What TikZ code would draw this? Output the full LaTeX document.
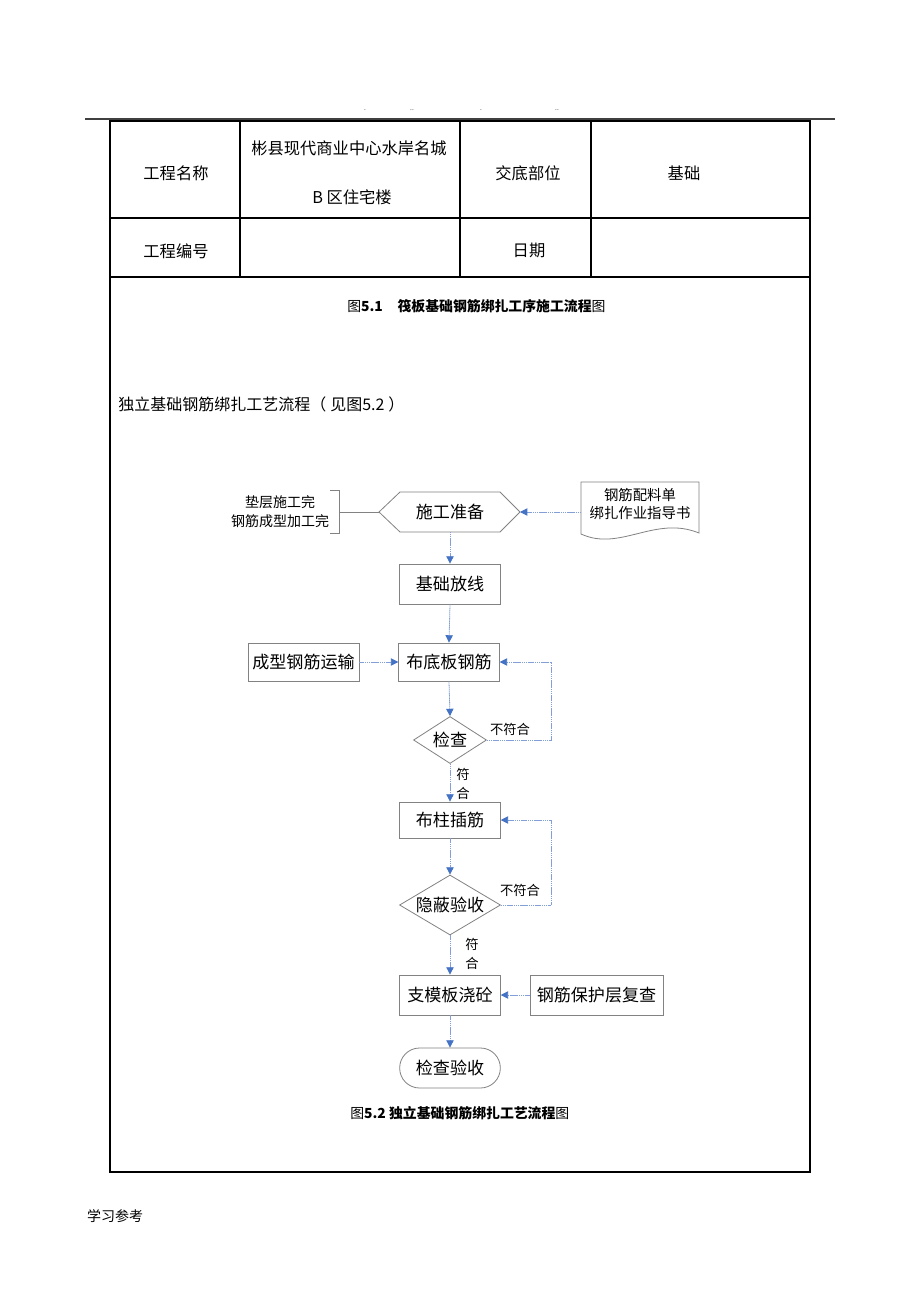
\documentclass[tikz,border=0pt]{standalone}
\usepackage{fontspec}
\setmainfont{Noto Sans CJK SC}
\usetikzlibrary{shapes.geometric,arrows.meta}
\definecolor{boxgray}{RGB}{130,130,130}
\definecolor{tipblue}{RGB}{68,114,196}
\definecolor{lineblue}{RGB}{130,160,215}
\begin{document}
\begin{tikzpicture}[x=0.75pt,y=-0.75pt,
  every node/.style={inner sep=0pt},
  cell/.style={font=\fontsize{12.2}{15}\selectfont},
  capt/.style={font=\fontsize{10.4}{13}\selectfont\bfseries, anchor=west},
  procbox/.style={draw=boxgray, line width=0.6pt, rectangle, minimum width=75.5pt, minimum height=30pt, font=\fontsize{12.8}{15}\selectfont},
  decision/.style={diamond, draw=boxgray, line width=0.6pt, inner sep=-2pt, font=\fontsize{12.8}{15}\selectfont},
  terminal/.style={procbox, rounded corners=14.9pt},
  shapeline/.style={draw=boxgray, line width=0.6pt},
  note/.style={font=\fontsize{10.5}{14.25}\selectfont, align=center},
  lbl/.style={font=\fontsize{10}{14}\selectfont, align=center},
  flowarrow/.style={draw=lineblue, line width=0.6pt, dash pattern=on 1pt off 0.4pt, -{Triangle[width=5.5pt,length=5.5pt,color=tipblue,sep=0pt]}},
]
\useasboundingbox (0,0) rectangle (920,1302);
\fill[white] (0,0) rectangle (920,1302);

% header rule and dots
\draw[line width=1.4pt, black!75] (85,119) -- (835,119);
\node[font=\fontsize{5}{5}\selectfont] (d1) at (365,110) {.};
\node[font=\fontsize{5}{5}\selectfont] (d2) at (412,110) {..};
\node[font=\fontsize{5}{5}\selectfont] (d3) at (481,110) {.};
\node[font=\fontsize{5}{5}\selectfont] (d4) at (557,110) {..};

% table
\draw[line width=1.6pt] (110,121) rectangle (810,1172);
\draw[line width=0.8pt] (110,218) -- (810,218);
\draw[line width=0.8pt] (110,277) -- (810,277);
\draw[line width=0.8pt] (240,121) -- (240,277);
\draw[line width=0.8pt] (460,121) -- (460,277);
\draw[line width=0.8pt] (591,121) -- (591,277);

\node[cell] (c11) at (176,173) {工程名称};
\node[cell] (c12a) at (349,148) {彬县现代商业中心水岸名城};
\node[cell] (c12b) at (352,197) {B 区住宅楼};
\node[cell] (c13) at (528,173) {交底部位};
\node[cell] (c14) at (684,173) {基础};
\node[cell] (c21) at (176,251) {工程编号};
\node[cell] (c23) at (529,250) {日期};

% captions and intro
\node[capt] (cap1) at (347,306) {{\mdseries 图}5.1\hspace{11pt}筏板基础钢筋绑扎工序施工流程{\mdseries 图}};
\node[font=\fontsize{12}{15}\selectfont, anchor=west] (intro) at (118,404) {独立基础钢筋绑扎工艺流程（\hspace{3pt}见图5.2\hspace{3pt}）};
\node[capt] (cap2) at (350,1113) {{\mdseries 图}5.2 独立基础钢筋绑扎工艺流程{\mdseries 图}};
\node[font=\fontsize{10.5}{13}\selectfont] (foot) at (115,1216) {学习参考};

% hexagon preparation
\draw[shapeline] (379,512) -- (400,492) -- (500,492) -- (520,512) -- (500,532) -- (400,532) -- cycle;
\node[font=\fontsize{12.8}{15}\selectfont] (prep) at (450,512) {施工准备};
\coordinate (hexL) at (379,512);
\coordinate (hexR) at (520,512);
\coordinate (hexB) at (450,532);

% bracket note
\node[note] (pre) at (280,511.5) {垫层施工完\\钢筋成型加工完};
\draw[shapeline] (330,490) -- (339,490) -- (339,533) -- (330,533);
\coordinate (brk) at (339,512);
\draw[shapeline] (brk) -- (hexL);

% document shape
\draw[shapeline] (581,482) -- (699,482) -- (699,533) .. controls (655,515) and (620,552) .. (581,534) -- cycle;
\node[note, font=\fontsize{10.8}{13.5}\selectfont] (doc) at (640,504) {钢筋配料单\\绑扎作业指导书};
\coordinate (docL) at (581,512);
\draw[flowarrow] (docL) -- (hexR);

% process boxes
\node[procbox] (fx) at (450,584) {基础放线};
\node[procbox, minimum height=28.5pt] (didi) at (449,662) {布底板钢筋};
\node[procbox, minimum width=83.25pt, minimum height=28.5pt] (ys) at (303.5,662) {成型钢筋运输};
\node[decision, minimum width=54.75pt, minimum height=35.25pt] (chk) at (450,740) {检查};
\node[procbox, minimum height=27pt] (zj) at (450,820) {布柱插筋};
\node[decision, minimum width=75.75pt, minimum height=45pt, aspect=1.68] (yb) at (450,905) {隐蔽验收};
\node[procbox] (mb) at (450,995) {支模板浇砼};
\node[procbox, minimum width=99.75pt] (bh) at (596.5,995) {钢筋保护层复查};
\node[terminal] (ysh) at (450,1068) {检查验收};

% labels
\node[lbl] (bf1) at (510,729) {不符合};
\node[lbl] (fh1) at (463,784) {符\\合};
\node[lbl] (bf2) at (520,890) {不符合};
\node[lbl] (fh2) at (472,954) {符\\合};

% connectors
\draw[flowarrow] (hexB) -- (fx.north);
\draw[flowarrow] (fx.south) -- (didi.north);
\draw[flowarrow] (ys.east) -- (didi.west);
\draw[flowarrow] (didi.south) -- (chk.north);
\draw[flowarrow] (chk.east) -- (551,740) |- (didi.east);
\draw[flowarrow] (chk.south) -- (zj.north);
\draw[flowarrow] (zj.south) -- (yb.north);
\draw[flowarrow] (yb.east) -- (551,905) |- (zj.east);
\draw[flowarrow] (yb.south) -- (mb.north);
\draw[flowarrow] (bh.west) -- (mb.east);
\draw[flowarrow] (mb.south) -- (ysh.north);
\end{tikzpicture}
\end{document}
